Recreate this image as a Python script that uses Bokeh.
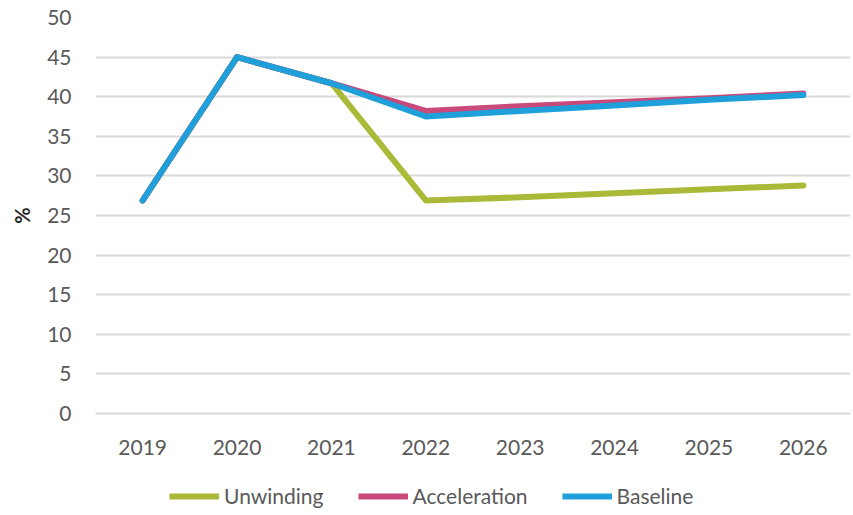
from bokeh.plotting import figure
from bokeh.layouts import column
from bokeh.models import Range1d, FactorRange, Legend, LegendItem, SingleIntervalTicker
from bokeh.embed import file_html
from bokeh.resources import INLINE

years = ["2019", "2020", "2021", "2022", "2023", "2024", "2025", "2026"]
unwinding = [26.9, 45.0, 41.7, 26.9, 27.3, 27.8, 28.3, 28.8]
acceleration = [26.9, 45.0, 41.7, 38.2, 38.8, 39.3, 39.8, 40.4]
baseline = [26.9, 45.0, 41.7, 37.5, 38.2, 38.9, 39.6, 40.2]

series = [("Unwinding", unwinding, "#AABA38"),
          ("Acceleration", acceleration, "#C8497A"),
          ("Baseline", baseline, "#1FA0DA")]

FONT = "Lato"
TEXT = "#595959"
GRID = "#d9d9d9"

# --- main chart ---
p = figure(width=853, height=470, output_backend="svg", toolbar_location=None,
           x_range=FactorRange(factors=years, range_padding=0),
           y_range=Range1d(0, 50))
p.min_border_left = 95
p.min_border_right = 3
p.min_border_top = 17
p.min_border_bottom = 57
p.outline_line_color = None
p.background_fill_color = "white"
p.border_fill_color = "white"

p.xgrid.grid_line_color = None
p.ygrid.grid_line_color = GRID
p.ygrid.grid_line_width = 2
p.yaxis.ticker = SingleIntervalTicker(interval=5)

for ax in (p.xaxis[0], p.yaxis[0]):
    ax.axis_line_color = None
    ax.major_tick_line_color = None
    ax.minor_tick_line_color = None
    ax.major_label_text_font = FONT
    ax.major_label_text_font_size = "21px"
    ax.major_label_text_color = TEXT

# the zero line along the bottom of the frame
p.xaxis.axis_line_color = GRID
p.xaxis.axis_line_width = 2

p.xaxis.major_label_standoff = 20
p.yaxis.major_label_standoff = 18
p.yaxis.axis_label = "%"
p.yaxis.axis_label_text_font = FONT
p.yaxis.axis_label_text_font_size = "20px"
p.yaxis.axis_label_text_font_style = "bold"
p.yaxis.axis_label_text_color = "#262626"
p.yaxis.axis_label_standoff = 10

for name, vals, color in series:
    p.line(years, vals, line_color=color, line_width=6, line_cap="round", line_join="round")

# --- legend strip underneath ---
k = figure(width=853, height=45, output_backend="svg", toolbar_location=None,
           x_range=FactorRange(factors=years), y_range=Range1d(0, 50))
k.min_border_left = k.min_border_right = k.min_border_top = k.min_border_bottom = 0
k.axis.visible = False
k.grid.visible = False
k.outline_line_color = None
k.border_fill_color = "white"
k.background_fill_color = "white"

items = []
for name, vals, color in series:
    r = k.line(years, vals, line_color=color, line_width=6, visible=False)
    items.append(LegendItem(label=name, renderers=[r]))

legend = Legend(items=items, orientation="horizontal", location=(74, 7),
                label_text_font=FONT, label_text_font_size="21px", label_text_color=TEXT,
                glyph_width=50, glyph_height=20, label_standoff=5, spacing=34,
                border_line_color=None, background_fill_alpha=0, padding=0, margin=0,
                click_policy="none")
k.add_layout(legend, "center")

layout = column(p, k, spacing=0)
open("out.html", "w").write(file_html(layout, INLINE))
